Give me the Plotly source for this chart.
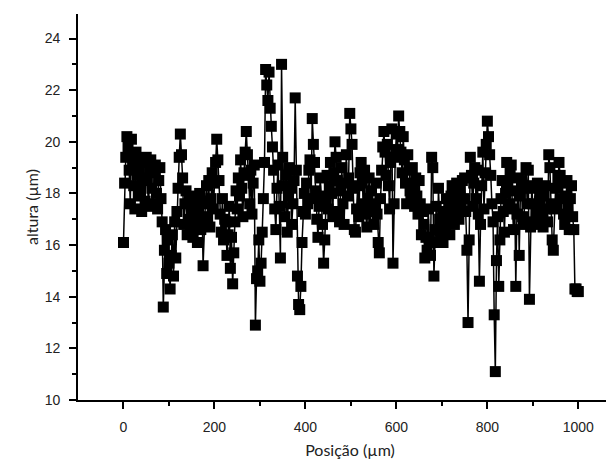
import numpy as np
import plotly.graph_objects as go

# height profile, one value every 2.5 µm (0 .. 1000 µm)
passo = 2.5
altura = [
    # 0 - 47.5
    16.1, 18.4, 19.4, 20.2, 19.8, 18.9, 17.6, 20.1, 19.2, 18.3,
    17.4, 19.6, 18.7, 17.9, 19.0, 18.1, 17.3, 19.2, 18.5, 17.7,
    # 50 - 97.5
    19.4, 18.6, 17.5, 18.9, 19.3, 18.2, 17.6, 18.8, 19.1, 18.0,
    17.4, 18.5, 19.0, 17.8, 16.9, 13.6, 15.8, 16.6, 14.9, 16.2,
    # 100 - 147.5
    15.3, 14.3, 15.6, 16.4, 14.8, 16.9, 15.5, 17.3, 18.2, 19.4,
    20.3, 19.5, 18.6, 16.8, 17.6, 18.1, 16.4, 17.0, 17.8, 16.7,
    # 150 - 197.5
    17.4, 16.3, 17.9, 16.8, 17.5, 16.1, 17.2, 18.0, 16.6, 17.7,
    15.2, 16.9, 17.6, 18.3, 17.1, 18.5, 16.7, 17.8, 18.8, 17.4,
    # 200 - 247.5
    18.4, 19.2, 20.1, 19.3, 18.5, 17.2, 16.5, 17.8, 16.2, 17.0,
    16.9, 15.6, 16.4, 17.5, 15.1, 16.3, 14.5, 15.7, 16.9, 18.1,
    # 250 - 297.5
    17.4, 18.6, 17.9, 19.3, 18.2, 17.1, 18.8, 19.6, 20.4, 19.5,
    18.7, 17.6, 18.9, 17.2, 18.4, 19.1, 12.9, 14.7, 15.0, 16.2,
    # 300 - 347.5
    14.6, 15.3, 16.5, 17.8, 19.2, 22.8, 22.2, 21.6, 22.7, 21.3,
    20.6, 19.8, 18.9, 17.4, 16.6, 18.2, 19.1, 17.5, 15.5, 23.0,
    # 350 - 397.5
    19.4, 18.3, 17.1, 18.7, 16.5, 17.9, 19.0, 18.2, 16.8, 17.6,
    18.5, 21.7, 18.9, 14.8, 13.7, 13.5, 14.4, 16.1, 17.3, 18.0,
    # 400 - 447.5
    17.2, 18.4, 17.6, 18.9, 19.3, 17.8, 20.9, 19.9, 19.2, 18.1,
    17.0, 16.3, 17.5, 18.6, 17.9, 16.8, 15.3, 16.2, 17.8, 18.7,
    # 450 - 497.5
    17.4, 18.3, 19.2, 18.0, 17.1, 18.8, 20.0, 19.4, 18.5, 17.3,
    16.9, 18.1, 19.0, 17.6, 16.8, 18.4, 19.5, 17.9, 18.6, 21.1,
    # 500 - 547.5
    20.5, 19.9, 18.2, 16.6, 16.5, 17.4, 18.3, 17.1, 18.8, 19.2,
    18.4, 17.6, 18.9, 17.2, 16.7, 17.8, 18.6, 17.3, 18.1, 17.5,
    # 550 - 597.5
    16.8, 17.6, 18.4, 17.2, 16.1, 15.7, 17.8, 18.9, 19.8, 20.4,
    19.6, 18.7, 19.9, 18.3, 17.4, 19.2, 20.5, 15.3, 17.6, 19.4,
    # 600 - 647.5
    20.3, 19.7, 21.0, 20.4, 19.6, 18.8, 20.2, 19.3, 18.4, 17.6,
    19.5, 18.9, 18.1, 17.8, 19.0, 18.3, 17.5, 18.6, 17.9, 17.2,
    # 650 - 697.5
    18.5, 17.6, 16.4, 17.3, 16.8, 15.5, 16.3, 15.8, 17.4, 16.2,
    15.6, 19.4, 19.0, 14.8, 16.6, 17.5, 16.1, 18.2, 17.0, 16.4,
    # 700 - 747.5
    16.8, 16.1, 17.3, 16.6, 17.8, 16.9, 17.5, 16.4, 17.9, 18.3,
    17.2, 16.8, 17.7, 18.4, 17.5, 17.0, 18.1, 17.4, 18.5, 17.8,
    # 750 - 797.5
    18.6, 17.3, 15.8, 13.0, 16.2, 19.4, 18.7, 17.5, 18.4, 19.0,
    17.8, 18.9, 17.2, 14.6, 16.8, 18.3, 19.6, 17.4, 18.8, 19.9,
    # 800 - 847.5
    20.8, 20.2, 19.5, 18.7, 17.6, 16.9, 13.3, 11.1, 15.4, 17.1,
    14.4, 16.2, 17.8, 18.5, 17.3, 16.5, 18.0, 19.2, 18.4, 17.6,
    # 850 - 897.5
    18.8, 19.1, 17.4, 16.6, 18.1, 14.4, 17.2, 18.6, 15.6, 17.9,
    18.5, 17.1, 16.8, 18.2, 19.0, 17.6, 18.9, 13.9, 16.7, 18.3,
    # 900 - 947.5
    17.6, 16.9, 18.2, 17.3, 18.4, 16.8, 17.7, 18.1, 17.0, 16.7,
    17.9, 18.3, 17.4, 16.9, 19.5, 19.0, 17.6, 16.2, 15.8, 17.4,
    # 950 - 1000
    18.2, 17.5, 18.6, 19.2, 18.7, 17.8, 18.4, 17.2, 16.8, 17.9,
    18.5, 17.4, 16.6, 17.8, 18.3, 17.1, 16.6, 14.3, 14.3, 14.2,
    14.2,
]
posicao = np.arange(len(altura)) * passo

fig = go.Figure(go.Scatter(
    x=posicao,
    y=altura,
    mode="lines+markers",
    line=dict(color="black", width=1.5),
    marker=dict(symbol="square", size=11, color="black"),
))

axis_common = dict(
    showline=True,
    linecolor="black",
    linewidth=1.6,
    ticks="outside",
    ticklen=7,
    tickwidth=1.6,
    tickcolor="black",
    showgrid=False,
    zeroline=False,
    tickfont=dict(family="Liberation Sans, Arial", size=14, color="#222"),
)
minor_common = dict(ticks="outside", ticklen=4, tickwidth=1.6, tickcolor="black")

fig.update_layout(
    width=614,
    height=465,
    # the page body has an 8px margin, so shift the plot area back
    margin=dict(l=70, r=0, t=6, b=73),
    paper_bgcolor="white",
    plot_bgcolor="white",
    showlegend=False,
    xaxis=dict(
        range=[-100, 1096],
        tickvals=[0, 200, 400, 600, 800, 1000],
        minor=dict(tickvals=[100, 300, 500, 700, 900], **minor_common),
        ticklabelstandoff=6,
        title=dict(text="Posição (µm)", font=dict(family="Lato, Open Sans", size=16, color="#222"), standoff=11),
        **axis_common,
    ),
    yaxis=dict(
        range=[10, 24.95],
        tickvals=[10, 12, 14, 16, 18, 20, 22, 24],
        minor=dict(tickvals=[11, 13, 15, 17, 19, 21, 23], **minor_common),
        ticklabelstandoff=6,
        title=dict(text="altura (µm)", font=dict(family="Lato, Open Sans", size=16, color="#222"), standoff=2),
        **axis_common,
    ),
)

fig.write_html("out.html")
